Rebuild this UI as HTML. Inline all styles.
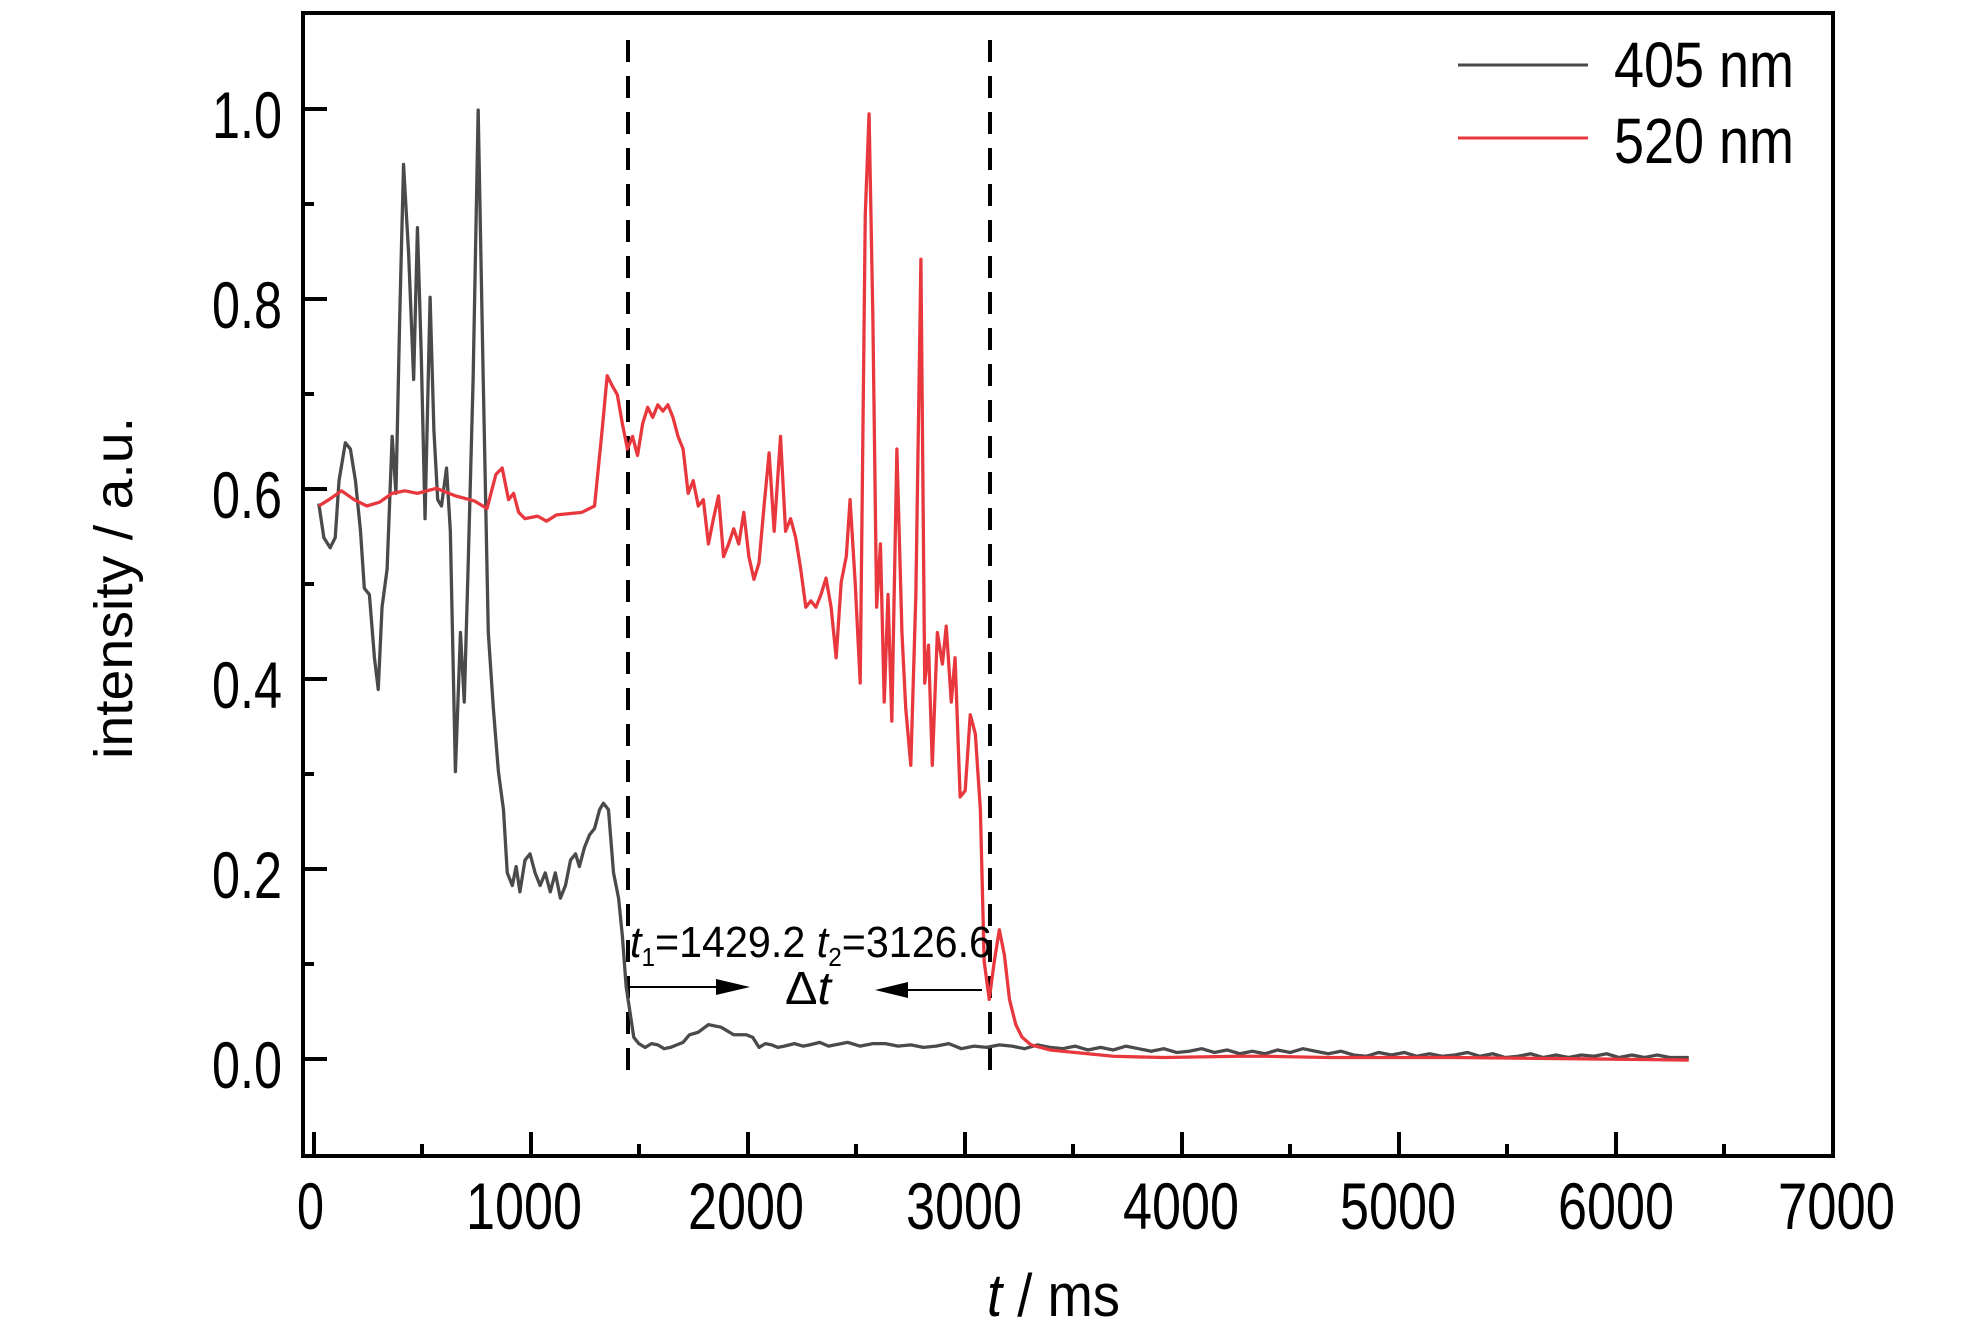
<!DOCTYPE html>
<html><head><meta charset="utf-8"><style>
html,body{margin:0;padding:0;background:#fff;}
svg{display:block;}
text{font-family:"Liberation Sans",Arial,sans-serif;fill:#000;}
</style></head><body>
<svg width="1984" height="1323" viewBox="0 0 1984 1323" xmlns="http://www.w3.org/2000/svg">
<rect width="1984" height="1323" fill="#fff"/>
<line x1="628" y1="40" x2="628" y2="1082" stroke="#000" stroke-width="4" stroke-dasharray="22,14"/>
<line x1="990" y1="40" x2="990" y2="1082" stroke="#000" stroke-width="4" stroke-dasharray="22,14"/>
<g transform="scale(1.265)" fill="none" stroke-linejoin="round">
<polyline stroke="#4a4a4a" stroke-width="2.6" points="252,398 256,425 261,433 265,425 268,380 273,350 277,355 281,380 285,420 288,465 292,470 296,520 299,545 302,480 306,450 310,345 313,390 316,250 319,130 323,200 327,300 330,180 333,280 336,410 340,235 343,340 346,395 349,400 353,370 356,420 360,610 364,500 367,555 370,450 374,300 378,87 382,300 386,500 390,560 394,610 398,640 401,690 405,700 408,685 411,705 415,680 419,675 423,690 427,700 431,690 435,705 439,690 443,710 447,700 451,680 455,675 458,685 462,670 466,660 470,655 474,640 477,635 481,640 485,690 489,710 492,740 495,780 498,800 501,820 505,825 510,828 515,825 520,826 525,829 530,828 535,826 540,824 545,818 552,816 560,810 570,812 580,818 590,818 595,820 600,828 605,825 610,826 615,828 620,827 628,825 635,827 640,826 648,824 655,827 660,826 670,824 680,827 690,825 700,825 710,827 720,826 730,828 740,827 750,825 760,829 770,827 780,828 790,826 800,827 810,829 820,826 830,828 840,829 850,827 860,830 870,828 880,830 890,827 900,829 910,831 920,829 930,832 940,831 950,829 960,832 970,830 980,833 990,831 1000,833 1010,830 1020,832 1030,829 1040,831 1050,833 1060,831 1070,834 1080,835 1090,832 1100,834 1110,832 1120,835 1130,833 1140,835 1150,834 1160,832 1170,835 1180,833 1190,836 1200,835 1210,833 1220,836 1230,834 1240,836 1250,834 1260,835 1270,833 1280,836 1290,834 1300,836 1310,834 1320,836 1335,836"/>
<polyline stroke="#e8383d" stroke-width="2.6" points="252,400 260,395 270,388 280,395 290,400 300,397 310,390 320,388 330,390 345,386 360,392 375,396 385,402 392,375 397,370 402,395 406,390 410,405 415,410 425,408 432,412 440,407 460,405 470,400 476,340 480,297 484,305 488,312 492,335 496,355 500,345 504,360 508,335 512,322 516,330 520,320 524,325 528,320 532,330 536,345 540,355 544,390 548,380 552,400 556,395 560,430 564,410 568,392 572,440 576,430 580,418 584,430 588,405 592,440 596,458 600,445 604,400 608,358 612,420 617,345 621,420 625,410 629,425 633,450 637,480 641,475 645,480 649,470 653,457 657,480 661,520 665,460 669,440 672,395 676,460 680,540 684,170 687,90 690,250 693,480 696,430 699,555 702,470 705,570 709,355 713,500 716,560 720,605 724,470 728,205 731,540 734,510 737,605 741,500 745,525 748,495 752,555 755,520 759,630 763,625 767,565 771,580 775,640 778,760 782,790 786,760 790,735 794,755 798,790 803,810 808,820 815,826 830,830 850,832 880,835 920,836 980,835 1000,835 1050,836 1150,836 1250,837 1335,838"/>
</g>
<rect x="303" y="13" width="1530" height="1143" fill="none" stroke="#000" stroke-width="4"/>
<g stroke="#000" stroke-width="4">
<line x1="303" y1="1059" x2="327" y2="1059"/><line x1="303" y1="869" x2="327" y2="869"/><line x1="303" y1="679" x2="327" y2="679"/><line x1="303" y1="489" x2="327" y2="489"/><line x1="303" y1="299" x2="327" y2="299"/><line x1="303" y1="109" x2="327" y2="109"/>
<line x1="303" y1="964" x2="314" y2="964"/><line x1="303" y1="774" x2="314" y2="774"/><line x1="303" y1="584" x2="314" y2="584"/><line x1="303" y1="394" x2="314" y2="394"/><line x1="303" y1="204" x2="314" y2="204"/>
<line x1="314" y1="1156" x2="314" y2="1132"/><line x1="531" y1="1156" x2="531" y2="1132"/><line x1="748" y1="1156" x2="748" y2="1132"/><line x1="965" y1="1156" x2="965" y2="1132"/><line x1="1182" y1="1156" x2="1182" y2="1132"/><line x1="1399" y1="1156" x2="1399" y2="1132"/><line x1="1616" y1="1156" x2="1616" y2="1132"/>
<line x1="422" y1="1156" x2="422" y2="1144"/><line x1="639" y1="1156" x2="639" y2="1144"/><line x1="856" y1="1156" x2="856" y2="1144"/><line x1="1073" y1="1156" x2="1073" y2="1144"/><line x1="1290" y1="1156" x2="1290" y2="1144"/><line x1="1507" y1="1156" x2="1507" y2="1144"/><line x1="1724" y1="1156" x2="1724" y2="1144"/>
</g>
<g font-size="66" text-anchor="end">
<text x="282" y="1088" textLength="70" lengthAdjust="spacingAndGlyphs">0.0</text>
<text x="282" y="898" textLength="70" lengthAdjust="spacingAndGlyphs">0.2</text>
<text x="282" y="708" textLength="70" lengthAdjust="spacingAndGlyphs">0.4</text>
<text x="282" y="518" textLength="70" lengthAdjust="spacingAndGlyphs">0.6</text>
<text x="282" y="328" textLength="70" lengthAdjust="spacingAndGlyphs">0.8</text>
<text x="282" y="138" textLength="70" lengthAdjust="spacingAndGlyphs">1.0</text>
</g>
<g font-size="66">
<text x="297" y="1229" textLength="27" lengthAdjust="spacingAndGlyphs">0</text>
<text x="466" y="1229" textLength="116" lengthAdjust="spacingAndGlyphs">1000</text>
<text x="688" y="1229" textLength="116" lengthAdjust="spacingAndGlyphs">2000</text>
<text x="906" y="1229" textLength="116" lengthAdjust="spacingAndGlyphs">3000</text>
<text x="1123" y="1229" textLength="116" lengthAdjust="spacingAndGlyphs">4000</text>
<text x="1340" y="1229" textLength="116" lengthAdjust="spacingAndGlyphs">5000</text>
<text x="1558" y="1229" textLength="116" lengthAdjust="spacingAndGlyphs">6000</text>
<text x="1778" y="1229" textLength="117" lengthAdjust="spacingAndGlyphs">7000</text>
</g>
<text x="987" y="1316" font-size="60" textLength="133" lengthAdjust="spacingAndGlyphs"><tspan font-style="italic">t</tspan> / ms</text>
<text transform="translate(132,588) rotate(-90)" text-anchor="middle" font-size="54" textLength="342" lengthAdjust="spacingAndGlyphs">intensity / a.u.</text>
<line x1="1458" y1="65" x2="1588" y2="65" stroke="#4a4a4a" stroke-width="3"/>
<line x1="1458" y1="138" x2="1588" y2="138" stroke="#e8383d" stroke-width="3"/>
<text x="1614" y="87" font-size="64" textLength="180" lengthAdjust="spacingAndGlyphs">405 nm</text>
<text x="1614" y="163" font-size="64" textLength="180" lengthAdjust="spacingAndGlyphs">520 nm</text>
<text x="630" y="957" font-size="44" textLength="362" lengthAdjust="spacingAndGlyphs"><tspan font-style="italic">t</tspan><tspan font-size="26" dy="9">1</tspan><tspan dy="-9">=1429.2  </tspan><tspan font-style="italic">t</tspan><tspan font-size="26" dy="9">2</tspan><tspan dy="-9">=3126.6</tspan></text>
<text x="785" y="1004" font-size="46" textLength="46" lengthAdjust="spacingAndGlyphs">Δ<tspan font-style="italic">t</tspan></text>
<line x1="630" y1="987" x2="720" y2="987" stroke="#000" stroke-width="2"/>
<polygon points="750,987 716,979 716,995" fill="#000"/>
<line x1="982" y1="990" x2="905" y2="990" stroke="#000" stroke-width="2"/>
<polygon points="875,990 908,982 908,998" fill="#000"/>
</svg>
</body></html>
